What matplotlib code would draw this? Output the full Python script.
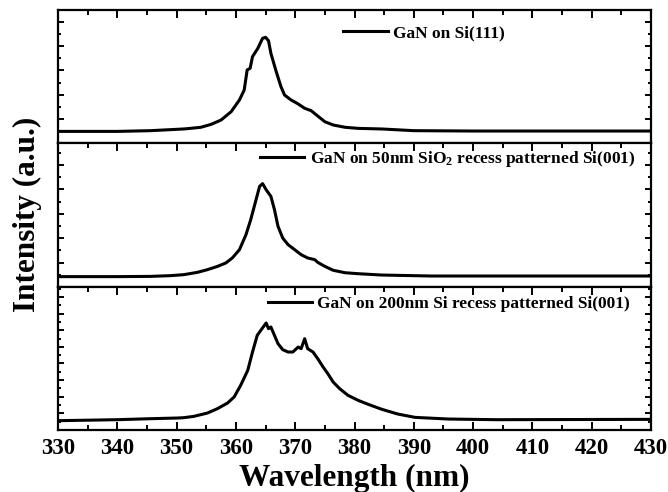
import matplotlib
matplotlib.use("Agg")
import matplotlib.pyplot as plt
from matplotlib.ticker import MultipleLocator, NullFormatter

plt.rcParams['font.family'] = ['Liberation Serif', 'DejaVu Serif']
plt.rcParams['font.weight'] = 'bold'
plt.rcParams['mathtext.fontset'] = 'custom'
plt.rcParams['mathtext.rm'] = 'Liberation Serif:bold'
plt.rcParams['mathtext.bf'] = 'Liberation Serif:bold'
plt.rcParams['mathtext.it'] = 'Liberation Serif:bold'

# ---- data ----
wl_top = [330, 340, 345.6, 351.2, 352.3, 354.1, 355.8, 357.5, 359.2, 360.6, 361.4, 361.9,
          362.4, 362.8, 363.7, 364.5, 365.0, 365.5, 365.9, 366.8, 367.6, 368.2, 369.3,
          370.5, 371.6, 372.7, 373.8, 375.0, 376.4, 378.4, 380.6, 384.6, 390, 400, 410, 420, 430]
int_top = [0.096, 0.096, 0.102, 0.116, 0.121, 0.130, 0.154, 0.190, 0.259, 0.356, 0.438, 0.604,
           0.618, 0.714, 0.783, 0.866, 0.874, 0.846, 0.742, 0.590, 0.466, 0.397, 0.356,
           0.323, 0.287, 0.267, 0.223, 0.176, 0.149, 0.130, 0.121, 0.116, 0.102, 0.099, 0.099, 0.099, 0.099]

wl_mid = [330, 340, 345.6, 349.0, 351.2, 353.5, 355.2, 356.9, 358.3, 359.4, 360.6, 361.7,
          362.5, 363.4, 364.0, 364.5, 365.1, 365.9, 366.5, 367.1, 367.9, 368.8, 369.9,
          371.0, 372.1, 373.3, 373.8, 375.0, 376.4, 378.4, 380.6, 384.6, 393, 400, 410, 420, 430]
int_mid = [0.085, 0.085, 0.087, 0.093, 0.101, 0.120, 0.142, 0.169, 0.197, 0.238, 0.306, 0.429,
           0.552, 0.716, 0.825, 0.847, 0.797, 0.743, 0.634, 0.497, 0.401, 0.347, 0.306,
           0.265, 0.238, 0.224, 0.202, 0.169, 0.137, 0.117, 0.109, 0.098, 0.090, 0.090, 0.090, 0.090, 0.090]

wl_bot = [330, 340, 345.6, 350.1, 351.2, 352.9, 355.2, 356.9, 358.6, 359.7, 360.8, 362.0,
          362.8, 363.6, 364.2, 365.1, 365.5, 365.9, 366.5, 367.1, 367.9, 368.8, 369.6,
          370.5, 371.0, 371.6, 372.1, 373.0, 373.8, 374.7, 375.5, 376.4, 377.5, 378.9,
          380.6, 382.3, 384.6, 387.3, 390.2, 395.8, 404, 430]
int_bot = [0.112, 0.124, 0.136, 0.144, 0.148, 0.164, 0.204, 0.257, 0.325, 0.397, 0.537, 0.718,
           0.938, 1.139, 1.199, 1.287, 1.219, 1.239, 1.139, 1.038, 0.966, 0.938, 0.938,
           0.998, 0.978, 1.098, 0.978, 0.938, 0.858, 0.758, 0.678, 0.577, 0.497, 0.417,
           0.357, 0.309, 0.249, 0.192, 0.152, 0.132, 0.124, 0.128]

labels = ["GaN on Si(111)",
          "GaN on 50nm SiO$_\\mathbf{2}$ recess patterned Si(001)",
          "GaN on 200nm Si recess patterned Si(001)"]
xticks = [330, 340, 350, 360, 370, 380, 390, 400, 410, 420, 430]

# ---- layout ----
W, H = 668, 492
fig = plt.figure(figsize=(W / 100, H / 100), dpi=100)
left, right = 58, 651
panels = [(10, 143), (143, 287), (287, 430)]
ylims = [1.1, 1.18, 1.72]
leg_anchor = [(0.481, 0.827), (0.341, 0.889), (0.354, 0.881)]
series = [(wl_top, int_top), (wl_mid, int_mid), (wl_bot, int_bot)]

for i, ((ytop, ybot), (wl, it), lab) in enumerate(zip(panels, series, labels)):
    ax = fig.add_axes([left / W, 1 - ybot / H, (right - left) / W, (ybot - ytop) / H])
    ax.plot(wl, it, color='black', lw=2.2, label=lab)
    ax.set_xlim(330, 430)
    ax.set_ylim(0, ylims[i])
    ax.xaxis.set_major_locator(MultipleLocator(10))
    ax.xaxis.set_minor_locator(MultipleLocator(5))
    ax.yaxis.set_major_locator(MultipleLocator(0.2))
    ax.yaxis.set_minor_locator(MultipleLocator(0.1))
    ax.yaxis.set_major_formatter(NullFormatter())
    for s in ax.spines.values():
        s.set_linewidth(1.6)
    last = (i == len(panels) - 1)
    ax.tick_params(axis='x', which='both', direction='in', top=True, bottom=last,
                   labelbottom=last, width=1.4, labelsize=16.5, pad=6)
    ax.tick_params(axis='x', which='major', length=5.5)
    ax.tick_params(axis='x', which='minor', length=3.5)
    ax.tick_params(axis='y', which='both', direction='in', left=True, right=True,
                   labelleft=False, width=1.4)
    ax.tick_params(axis='y', which='major', length=4.5)
    ax.tick_params(axis='y', which='minor', length=2.5)
    if last:
        ax.set_xticks(xticks)
        ax.set_xlabel("Wavelength (nm)", fontsize=22.5, fontweight='bold', labelpad=3)
    ax.legend(loc='center left', bbox_to_anchor=leg_anchor[i], frameon=False,
              borderpad=0, borderaxespad=0, handlelength=2.55, handletextpad=0.3,
              prop={'family': 'Liberation Serif', 'weight': 'bold', 'size': 12.5})

fig.text(27 / W, 1 - 214 / H, "Intensity (a.u.)", rotation=90, ha='center', va='center',
         fontsize=22.5, fontweight='bold')

fig.savefig("out.png", dpi=100)
